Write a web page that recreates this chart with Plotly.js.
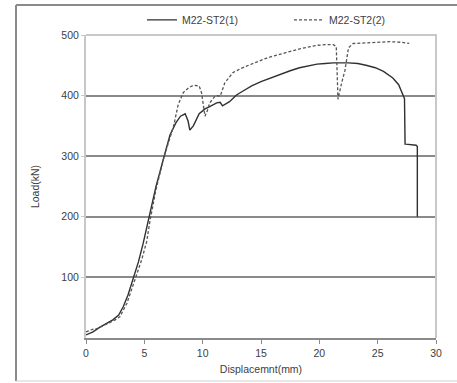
<!DOCTYPE html>
<html>
<head>
<meta charset="utf-8">
<script src="https://cdn.plot.ly/plotly-3.0.1.min.js"></script>
<style>
html,body{margin:0;padding:0;background:#fff;}
#chart{width:457px;height:383px;}
</style>
</head>
<body>
<div id="chart"></div>
<script>
// Series 1: M22-ST2(1)
var s1Name = "M22-ST2(1)";
var s1X = [0, 0.3, 0.6, 1.2, 1.8, 2.3, 2.8, 3.2, 3.6, 4.05, 4.5, 4.9, 5.4, 6.0, 6.7, 7.2, 7.7, 8.1, 8.5, 8.75, 8.9, 9.2, 9.7, 10.2, 10.6, 11.2, 11.5, 11.7, 12.3, 12.9, 13.5, 14.2, 15.0, 15.8, 16.6, 17.5, 18.3, 19.1, 19.8, 20.5, 21.2, 22.5, 23.3, 24.0, 24.8, 25.5, 26.3, 26.8, 27.1, 27.3, 27.35, 27.4, 28.3, 28.4, 28.4];
var s1Y = [5, 8, 10, 18, 25, 30, 38, 52, 71, 97, 126, 156, 200, 250, 300, 335, 355, 366, 370, 358, 343, 350, 370, 378, 382, 388, 389, 383, 390, 401, 408, 416, 423, 429, 435, 441, 446, 449, 452, 453, 454, 454, 453, 450, 446, 440, 429, 418, 405, 395, 320, 320, 318, 316, 200];

// Series 2: M22-ST2(2)
var s2Name = "M22-ST2(2)";
var s2X = [0, 0.5, 1.0, 1.5, 2.0, 2.5, 2.9, 3.5, 4.2, 4.77, 5.2, 5.5, 6.0, 6.7, 7.5, 7.9, 8.34, 8.8, 9.2, 9.7, 9.9, 10.1, 10.2, 10.4, 10.6, 11.06, 11.3, 11.5, 11.9, 12.6, 13.3, 14.06, 14.8, 15.5, 16.2, 16.9, 17.6, 18.3, 19.0, 19.8, 20.5, 21.2, 21.45, 21.6, 21.9, 22.2, 22.5, 22.9, 24.0, 25.0, 26.0, 27.0, 27.7];
var s2Y = [10, 14, 16, 20, 25, 30, 35, 57, 96, 129, 159, 195, 245, 300, 349, 385, 405, 413, 417, 416, 405, 380, 366, 375, 388, 399, 400, 399, 421, 438, 445, 451, 457, 462, 466, 470, 474, 477, 480, 483, 484, 484, 481, 394, 420, 442, 479, 486, 487, 488, 489, 488, 486];

// Axis ticks
var xTicks = [0, 5, 10, 15, 20, 25, 30];
var yTicks = [100, 200, 300, 400, 500];
var xTitle = "Displacemnt(mm)";
var yTitle = "Load(kN)";

var font = {family: "Liberation Sans, Arial, sans-serif", size: 10.5, color: "#404040"};

var traces = [
  {x: s1X, y: s1Y, name: s1Name, type: "scatter", mode: "lines", legend: "legend",
   line: {color: "#303030", width: 1.4}},
  {x: s2X, y: s2Y, name: s2Name, type: "scatter", mode: "lines", legend: "legend2",
   line: {color: "#555555", width: 1.3, dash: "3px,2px"}}
];

var legBase = {orientation: "h", xanchor: "left", yanchor: "middle", y: 1.05,
               font: font, bgcolor: "rgba(0,0,0,0)", itemwidth: 30};

var layout = {
  width: 457, height: 383,
  margin: {l: 86, r: 21, t: 35, b: 45, autoexpand: false},
  paper_bgcolor: "#ffffff", plot_bgcolor: "#ffffff",
  font: font,
  showlegend: true,
  legend: Object.assign({}, legBase, {x: 0.16}),
  legend2: Object.assign({}, legBase, {x: 0.58}),
  xaxis: {range: [0, 30], tickvals: xTicks, showgrid: false, zeroline: false,
          showline: true, linecolor: "#8a8a8a", linewidth: 2,
          ticks: "outside", ticklen: 4, tickcolor: "#8a8a8a", tickwidth: 1,
          tickfont: font, title: {text: xTitle, font: font, standoff: 8}},
  yaxis: {range: [0, 500], tickvals: yTicks, showgrid: true, gridcolor: "#8a8a8a", gridwidth: 2,
          zeroline: false, showline: true, linecolor: "#c8c8c8", linewidth: 2,
          ticks: "outside", ticklen: 3, tickcolor: "#c8c8c8",
          tickfont: font, title: {text: yTitle, font: font, standoff: 20}},
  shapes: [
    {type: "path", xref: "paper", yref: "paper", path: "M0,1 L1,1 L1,0",
     line: {color: "#c8c8c8", width: 2}, layer: "above"},
    {type: "line", xref: "paper", yref: "paper", x0: -0.2, x1: -0.2, y0: 1.099, y1: -0.142,
     line: {color: "#8a8a8a", width: 2}},
    {type: "line", xref: "paper", yref: "paper", x0: -0.2, x1: 1.06, y0: 1.099, y1: 1.099,
     line: {color: "#8a8a8a", width: 2}},
    {type: "line", xref: "paper", yref: "paper", x0: -0.2, x1: 1.06, y0: -0.142, y1: -0.142,
     line: {color: "#d0d0d0", width: 1}}
  ]
};

Plotly.newPlot("chart", traces, layout, {staticPlot: true, displayModeBar: false});
</script>
</body>
</html>
